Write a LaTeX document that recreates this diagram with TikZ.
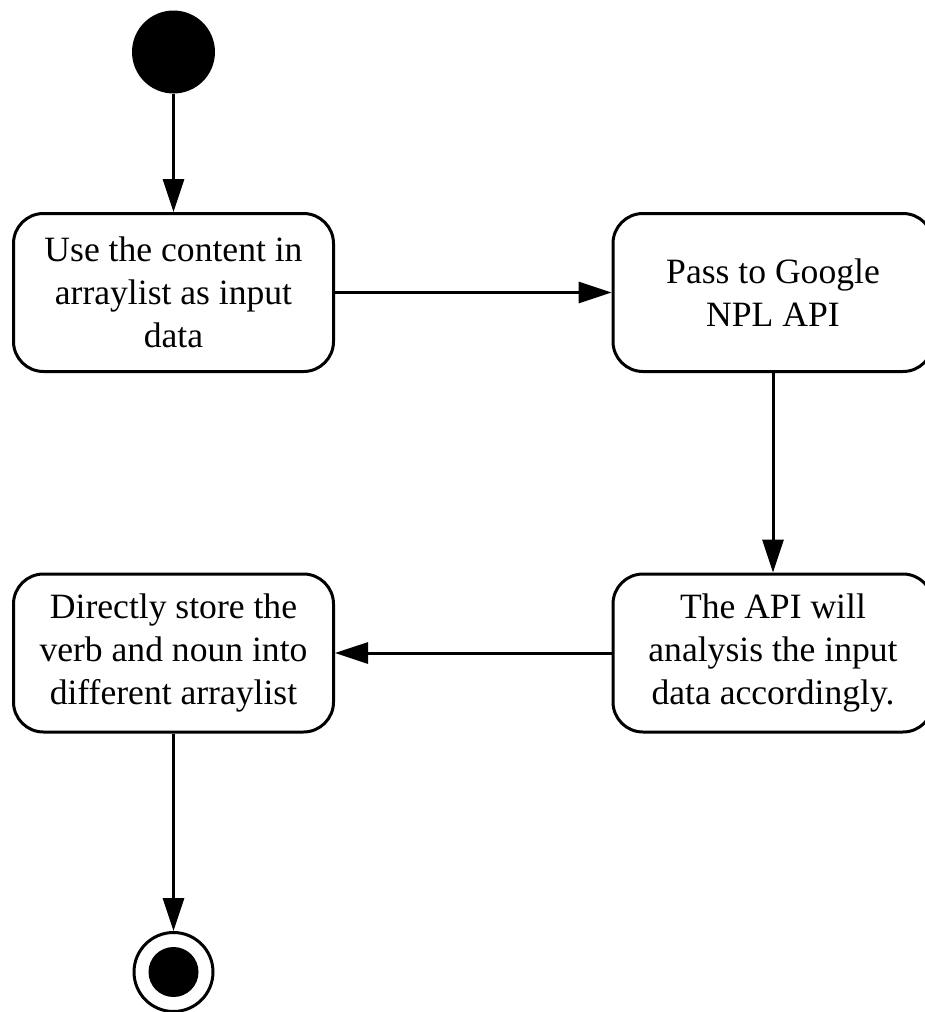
\documentclass[tikz,border=0pt]{standalone}
\usepackage{fontspec}
\setmainfont{Liberation Serif}
\usetikzlibrary{arrows.meta}

\tikzset{
  action/.style={draw, line width=3pt, rounded corners=30pt,
    minimum width=320pt, minimum height=158pt, inner sep=0pt,
    align=center, font=\fontsize{35.6pt}{43pt}\selectfont},
  startdot/.style={circle, fill=black, minimum size=83pt, inner sep=0pt},
  endring/.style={circle, draw, line width=3pt, fill=white, minimum size=79pt, inner sep=0pt},
  enddot/.style={circle, fill=black, minimum size=50pt, inner sep=0pt},
  flow/.style={line width=3pt, -{Triangle[length=33pt,width=21pt]}}
}

\begin{document}
\begin{tikzpicture}[x=1pt, y=1pt]
  \clip (0,0) rectangle (925,-1012);
  \useasboundingbox (0,0) rectangle (925,-1012);

  \node[startdot] (start) at (173.5,-52) {};
  \node[action] (use) at (173.5,-292.5) {Use the content in\\arraylist as input\\data};
  \node[action] (pass) at (773,-292.5) {Pass to Google\\NPL API};
  \node[action] (analyse) at (773,-653) {The API will\\analysis the input\\data accordingly.};
  \node[action] (store) at (173.5,-653) {Directly store the\\verb and noun into\\different arraylist};
  \node[endring] (final) at (173.5,-972) {};
  \node[enddot] (finaldot) at (final.center) {};

  \draw[flow] (start) -- (use);
  \draw[flow] (use) -- (pass);
  \draw[flow] (pass) -- (analyse);
  \draw[flow] (analyse) -- (store);
  \draw[flow] (store) -- (final);
\end{tikzpicture}
\end{document}
